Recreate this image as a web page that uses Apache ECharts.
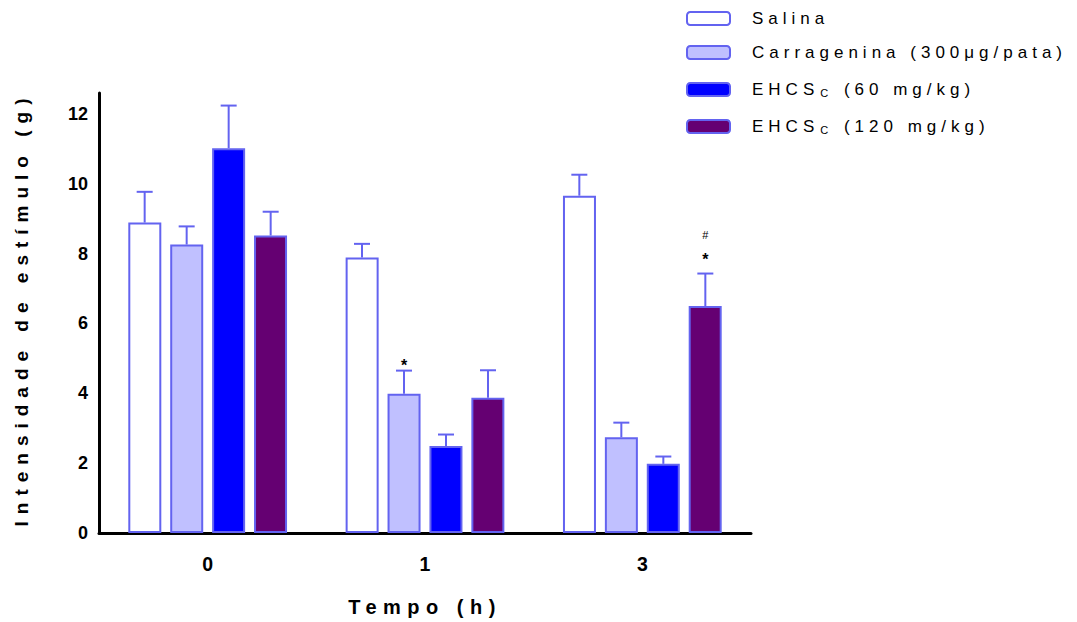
<!DOCTYPE html>
<html>
<head>
<meta charset="utf-8">
<style>
    html, body { margin: 0; padding: 0; background: #fff; }
    #chart { width: 1077px; height: 622px; }
</style>
</head>
<body>
<div id="chart"></div>
<script src="https://cdn.jsdelivr.net/npm/echarts@6/dist/echarts.min.js"></script>
<script>
    // dados
    var categorias = ['0', '1', '3'];
    var grupos = ['Salina', 'Carragenina (300μg/pata)', 'EHCSC (60 mg/kg)', 'EHCSC (120 mg/kg)'];
    var salina = [8.89, 7.89, 9.66];
    var carragenina = [8.26, 3.99, 2.74];
    var ehcs60 = [11.02, 2.49, 1.98];
    var ehcs120 = [8.52, 3.87, 6.50];
    var erroSalina = [0.88, 0.39, 0.60];
    var erroCarragenina = [0.52, 0.66, 0.42];
    var erroEhcs60 = [1.22, 0.33, 0.21];
    var erroEhcs120 = [0.68, 0.79, 0.93];
    // [categoria, grupo, texto, altura]
    var marcas = [[1, 1, '*', 4.80], [2, 3, '*', 7.82], [2, 3, '#', 8.54]];
    var yTicks = [0, 2, 4, 6, 8, 10, 12];

    var cores = ['#ffffff', '#c0c0ff', '#0000ff', '#650072'];
    var borda = '#6363f0';
    var medias = [salina, carragenina, ehcs60, ehcs120];
    var erros = [erroSalina, erroCarragenina, erroEhcs60, erroEhcs120];
    var larguraBarra = 33, passo = 42;

    // espaçamento entre letras (px) por tamanho de fonte, como no original
    var espacos = { '19px': 7, '20px': 6.5, '17px': 5 };

    var dadosErro = [];
    for (var s = 0; s < 4; s++) {
        for (var c = 0; c < categorias.length; c++) {
            dadosErro.push([c, s, medias[s][c], erros[s][c]]);
        }
    }

    var chart = echarts.init(document.getElementById('chart'), null, { renderer: 'svg' });
    var fonte = '"Liberation Sans", Arial, sans-serif';

    var series = [];
    grupos.forEach(function (nome, i) {
        series.push({
            name: nome,
            type: 'bar',
            data: medias[i],
            barWidth: larguraBarra,
            barGap: '27%',
            itemStyle: { color: cores[i], borderColor: borda, borderWidth: 2 },
            emphasis: { disabled: true }
        });
    });

    series.push({
        type: 'custom',
        data: dadosErro,
        encode: { x: 0, y: 2 },
        z: 5,
        silent: true,
        renderItem: function (params, api) {
            var c = api.value(0), s = api.value(1), m = api.value(2), e = api.value(3);
            var base = api.coord([c, m]);
            var topo = api.coord([c, m + e]);
            var x = base[0] + (s - 1.5) * passo;
            var estilo = { stroke: borda, lineWidth: 2 };
            return {
                type: 'group',
                children: [
                    { type: 'line', shape: { x1: x, y1: base[1], x2: x, y2: topo[1] }, style: estilo },
                    { type: 'line', shape: { x1: x - 8, y1: topo[1], x2: x + 8, y2: topo[1] }, style: estilo }
                ]
            };
        }
    });

    series.push({
        type: 'custom',
        data: marcas,
        encode: { x: 0, y: 3 },
        z: 6,
        silent: true,
        renderItem: function (params, api) {
            var item = marcas[params.dataIndex];
            var p = api.coord([item[0], item[3]]);
            var x = p[0] + (item[1] - 1.5) * passo;
            return {
                type: 'text',
                style: {
                    text: item[2],
                    x: x,
                    y: p[1],
                    align: 'center',
                    verticalAlign: 'middle',
                    fill: '#000',
                    font: item[2] === '*' ? 'bold 16px ' + fonte : '11px ' + fonte
                }
            };
        }
    });

    var option = {
        animation: false,
        textStyle: { fontFamily: fonte },
        grid: { left: 99, right: 326, top: 93, bottom: 89, containLabel: false, outerBoundsMode: 'none' },
        legend: {
            orient: 'vertical',
            left: 681,
            top: 5,
            itemWidth: 43,
            itemHeight: 13,
            itemGap: 17,
            selectedMode: false,
            data: grupos,
            textStyle: {
                fontSize: 17,
                color: '#000',
                padding: [0, 0, 0, 17],
                rich: {
                    n: { fontSize: 17, color: '#000', lineHeight: 17 },
                    s: { fontSize: 11, color: '#000', lineHeight: 17, verticalAlign: 'bottom', padding: [9, 6, 0, 21] }
                }
            },
            formatter: function (nome) {
                if (nome.indexOf('EHCSC') === 0) {
                    return '{n|EHCS}{s|C}{n|' + nome.slice(5) + '}';
                }
                return nome;
            }
        },
        xAxis: {
            type: 'category',
            data: categorias,
            name: 'Tempo (h)',
            nameLocation: 'middle',
            nameGap: 64,
            nameTextStyle: { fontSize: 20, fontWeight: 'bold', color: '#000' },
            axisLine: { lineStyle: { color: '#000', width: 3 } },
            axisTick: { alignWithLabel: true, length: 5, lineStyle: { color: '#000', width: 3 } },
            axisLabel: { fontSize: 19.5, fontWeight: 'bold', color: '#000', margin: 21 }
        },
        yAxis: {
            type: 'value',
            min: 0,
            max: 12.6,
            interval: 2,
            name: 'Intensidade de estímulo (g)',
            nameLocation: 'middle',
            nameGap: 68,
            nameTextStyle: { fontSize: 19, fontWeight: 'bold', color: '#000', padding: [0, 0, 0, 8] },
            splitLine: { show: false },
            axisLine: { show: true, lineStyle: { color: '#000', width: 3 } },
            axisTick: { show: false },
            axisLabel: {
                fontSize: 18, fontWeight: 'bold', color: '#000', margin: 11,
                showMaxLabel: false,
                formatter: function (v) { return yTicks.indexOf(v) >= 0 ? String(v) : ''; }
            }
        },
        series: series
    };

    chart.setOption(option);

    function espacar() {
        var textos = document.querySelectorAll('#chart text');
        for (var i = 0; i < textos.length; i++) {
            var tam = getComputedStyle(textos[i]).fontSize;
            if (espacos[tam]) {
                textos[i].style.letterSpacing = espacos[tam] + 'px';
            }
        }
    }
    espacar();
    chart.on('finished', espacar);
</script>
</body>
</html>
